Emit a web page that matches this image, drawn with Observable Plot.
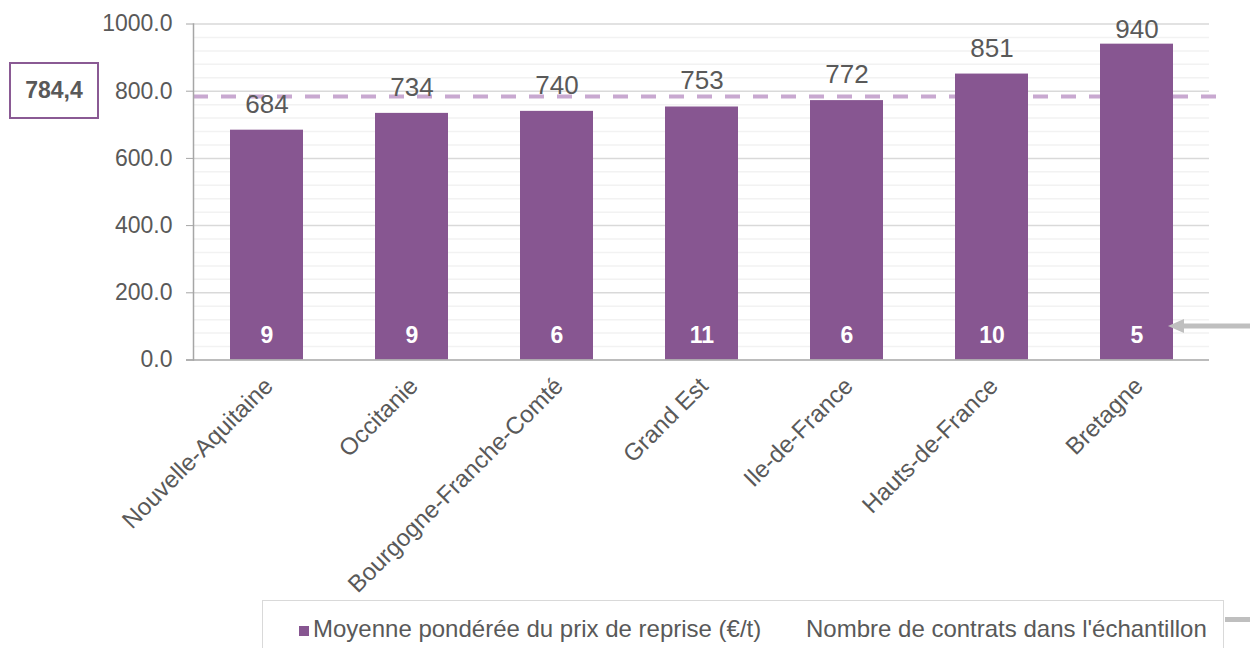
<!DOCTYPE html>
<html>
<head>
<meta charset="utf-8">
<script src="https://cdn.jsdelivr.net/npm/d3@7"></script>
<script src="https://cdn.jsdelivr.net/npm/@observablehq/plot@0.6"></script>
<style>
  html, body { margin: 0; padding: 0; background: #fff; }
  #wrap { position: relative; width: 1250px; height: 648px; overflow: hidden; font-family: "Liberation Sans", Arial, sans-serif; }
  #avg { position: absolute; left: 9px; top: 62px; width: 86px; height: 53px; border: 2px solid #8A5A94;
         display: flex; align-items: center; justify-content: center; font-weight: bold; font-size: 23px; color: #595959; }
  #legend { position: absolute; left: 262px; top: 600px; width: 960px; height: 80px; border: 1.5px solid #D9D9D9; background: #fff;
            font-size: 24px; color: #595959; }
  #legend .item { position: absolute; top: 15px; white-space: nowrap; line-height: 26px; }
  #legend .sw { display: inline-block; width: 10px; height: 10px; background: #875691; margin-right: 4px; vertical-align: 1px; }
  #seg { position: absolute; left: 1225px; top: 617px; width: 25px; height: 5px; background: #BFBFBF; }
</style>
</head>
<body>
<div id="wrap"></div>
<script>
// ---- data ----
const regions = ["Nouvelle-Aquitaine", "Occitanie", "Bourgogne-Franche-Comté", "Grand Est", "Ile-de-France", "Hauts-de-France", "Bretagne"];
const prices = [684, 734, 740, 753, 772, 851, 940];
const contracts = [9, 9, 6, 11, 6, 10, 5];
const average = 784.4;
const yTicks = [0, 200, 400, 600, 800, 1000];
const seriesLabels = ["Moyenne pondérée du prix de reprise (€/t)", "Nombre de contrats dans l'échantillon"];
const arrowTarget = "Bretagne";

const rows = regions.map((r, i) => ({region: r, price: prices[i], n: contracts[i]}));
const minor = d3.range(0, 1001, 40).filter(v => v % 200 !== 0);

const chart = Plot.plot({
  width: 1250,
  height: 600,
  marginLeft: 193,
  marginRight: 41,
  marginTop: 23.5,
  marginBottom: 240.5,
  style: {fontFamily: "'Liberation Sans', Arial, sans-serif", fontSize: "23px", color: "#595959", background: "#fff"},
  x: {domain: regions, paddingInner: 0.5, paddingOuter: 0.25, label: null},
  y: {domain: [0, 1000], label: null},
  marks: [
    Plot.ruleY(minor, {stroke: "#F2F2F2", strokeWidth: 1.5}),
    Plot.ruleY(yTicks.filter(v => v > 0), {stroke: "#D9D9D9", strokeWidth: 1.5}),
    Plot.ruleY([average], {stroke: "#C8A8D0", strokeWidth: 4, strokeDasharray: "15,13", insetRight: -8}),
    Plot.barY(rows, {x: "region", y: "price", fill: "#875691"}),
    Plot.text(rows, {x: "region", y: d => Math.min(d.price + 77, 984), text: d => String(d.price),
      fontSize: 26, fill: "#595959", lineAnchor: "middle"}),
    Plot.text(rows, {x: "region", y: 0, dy: -24, text: d => String(d.n), fontSize: 23, fontWeight: "bold",
      fill: "#ffffff", lineAnchor: "middle"}),
    Plot.frame({anchor: "left", stroke: "#A6A6A6", strokeWidth: 1.5}),
    Plot.ruleY([0], {stroke: "#A6A6A6", strokeWidth: 1.5, insetLeft: -7}),
    Plot.axisY({ticks: yTicks, tickFormat: d => d.toFixed(1), tickSize: 7, tickPadding: 14,
      stroke: "#A6A6A6", fill: "#595959", fontSize: 23}),
    Plot.axisX({tickRotate: -45, tickSize: 0, tickPadding: 22, fill: "#595959", fontSize: 24, dx: 2})
  ]
});

const wrap = document.getElementById("wrap");
wrap.appendChild(chart);

// arrow pointing at the contract count of the target bar
const xs = chart.scale("x"), ys = chart.scale("y");
const tipX = xs.apply(arrowTarget) + xs.bandwidth - 5;
const ay = ys.apply(100);
const svg = d3.select(chart);
svg.append("line").attr("x1", tipX + 12).attr("x2", 1250).attr("y1", ay).attr("y2", ay)
  .attr("stroke", "#BFBFBF").attr("stroke-width", 5);
svg.append("path").attr("d", `M${tipX},${ay} L${tipX + 16},${ay - 7} L${tipX + 16},${ay + 7} Z`).attr("fill", "#BFBFBF");

// average box
const avg = document.createElement("div");
avg.id = "avg";
avg.textContent = average.toString().replace(".", ",");
wrap.appendChild(avg);

// legend
const legend = document.createElement("div");
legend.id = "legend";
legend.innerHTML = `<span class="item" style="left:36px"><span class="sw"></span>${seriesLabels[0]}</span>
  <span class="item" style="left:543px">${seriesLabels[1]}</span>`;
wrap.appendChild(legend);
const seg = document.createElement("div");
seg.id = "seg";
wrap.appendChild(seg);
</script>
</body>
</html>
